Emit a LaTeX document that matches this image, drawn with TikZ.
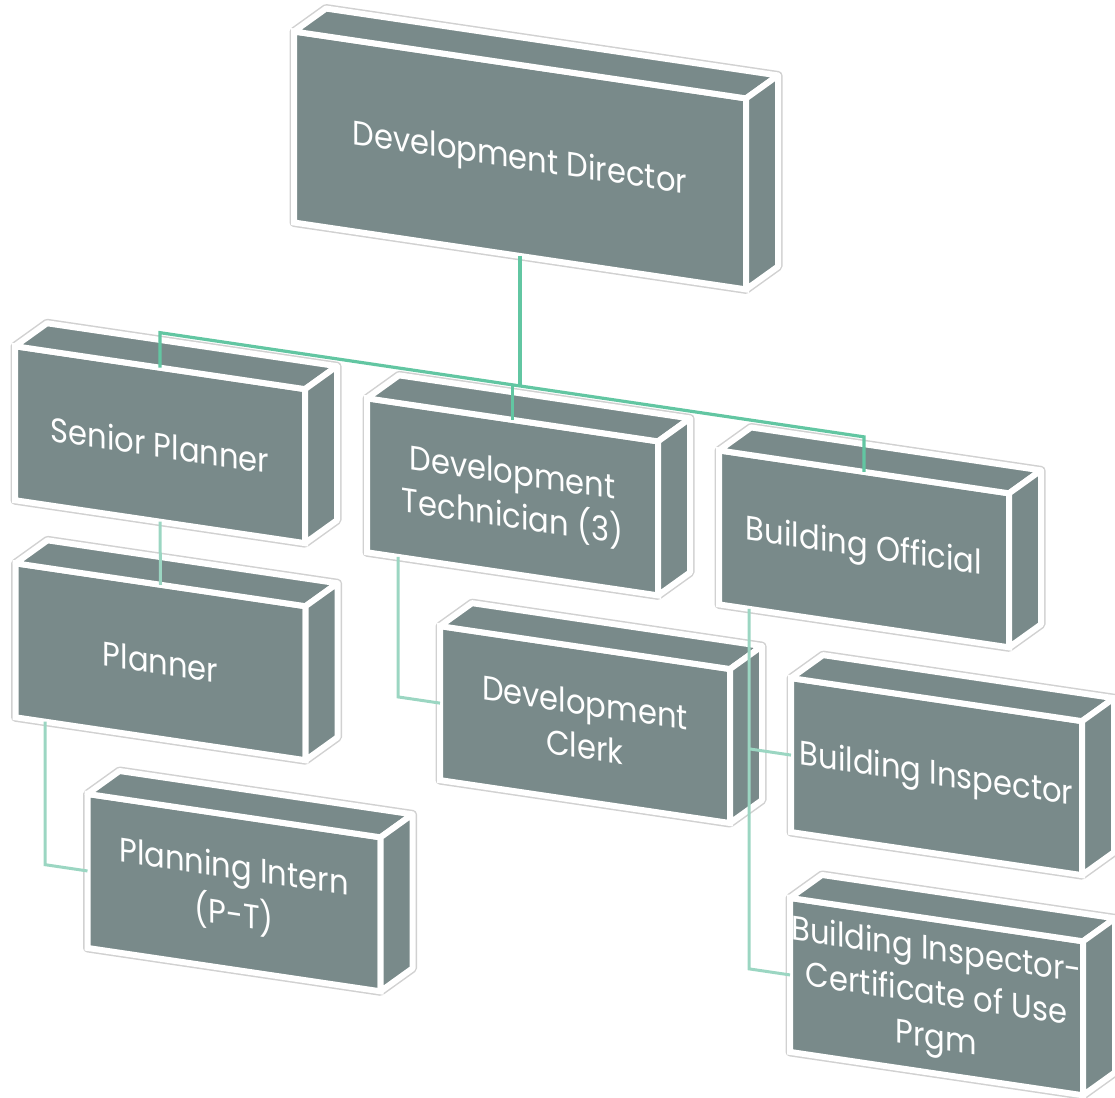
\documentclass[tikz,border=0pt]{standalone}
\usepackage{fontspec}
\newfontfamily\boxfont[FakeStretch=0.9]{Poppins}
\usepackage{tikz}
\usetikzlibrary{backgrounds}

\definecolor{boxgrey}{HTML}{798A8A}
\definecolor{linkgreen}{HTML}{62C6A2}
\definecolor{linklight}{HTML}{9BD6C2}

\begin{document}
\begin{tikzpicture}
      [x=1pt, y=1pt,
       front/.style={draw=white, line width=6pt, fill=boxgrey, text=white,
         inner sep=0pt, outer sep=0pt, align=center, transform shape,
         font=\boxfont\fontsize{34}{44}\selectfont},
       face/.style={draw=white, line width=6pt, fill=boxgrey, line join=round},
       halo/.style={draw=black!18, line width=9pt, line join=round},
       link/.style={draw=linkgreen, line width=3.2pt},
       sublink/.style={draw=linklight, line width=3pt}]
      \useasboundingbox (0, 0) rectangle (1115, -1097);

      \begin{scope}[yslant=-0.148]
      \node (dd) [front, minimum width=452, minimum height=191] at (520, -83.5) {Development Director};

      \node (sp) [front, minimum width=290, minimum height=154] at (160, -421) {Senior Planner};
      \node (dt) [front, minimum width=291, minimum height=154] at (512.5, -421) {Development\\Technician (3)};
      \node (bo) [front, minimum width=290, minimum height=154] at (864, -421) {Building Official};

      \node (pl) [front, minimum width=290, minimum height=154] at (160.5, -638) {Planner};
      \node (dc) [front, minimum width=290, minimum height=154] at (585, -638) {Development\\Clerk};
      \node (bi) [front, minimum width=291, minimum height=154] at (936.5, -638) {Building Inspector};

      \node (pi) [front, minimum width=293, minimum height=154] at (234, -858) {Planning Intern\\[4pt](P-T)};
      \node (bc) [front, minimum width=293, minimum height=154] at (936.5, -858) {Building Inspector-\\Certificate of Use\\Prgm};

      % top and side of each box
      \foreach \n/\w/\h in {dd/452/191, sp/290/154, dt/291/154, bo/290/154, pl/290/154,
                            dc/290/154, bi/291/154, pi/293/154, bc/293/154} {
        \draw [face] (\n.north west) -- ++(32, 27.7) -- ++(\w, 0) -- (\n.north east) -- cycle;
        \draw [face] (\n.north east) -- ++(32, 27.7) -- ++(0, -\h) -- (\n.south east) -- cycle;
        \begin{scope}[on background layer]
          \draw [halo] (\n.south west) -- (\n.north west) -- ++(32, 27.7) -- ++(\w, 0)
            -- ++(0, -\h) -- (\n.south east) -- cycle;
        \end{scope}
      }

      \coordinate (bus) at (0, -309);
      \coordinate (plx) at (45, 0);
      \coordinate (dtx) at (398, 0);
      \coordinate (box) at (749, 0);

      \draw [link] (dd.south) -- (dd.south |- bus);
      \draw [link] (sp.north) |- (bus -| bo.north) -- (bo.north);
      \draw [link] (dt.north) -- (dt.north |- bus);

      \draw [sublink] (sp.south) -- (pl.north);
      \draw [sublink] (pl.south -| plx) |- (pi.west);
      \draw [sublink] (dt.south -| dtx) |- (dc.west);
      \draw [sublink] (bo.south -| box) |- (bc.west);
      \draw [sublink] (box |- bi.west) -- (bi.west);
      \end{scope}
    
    \end{tikzpicture}
\end{document}
